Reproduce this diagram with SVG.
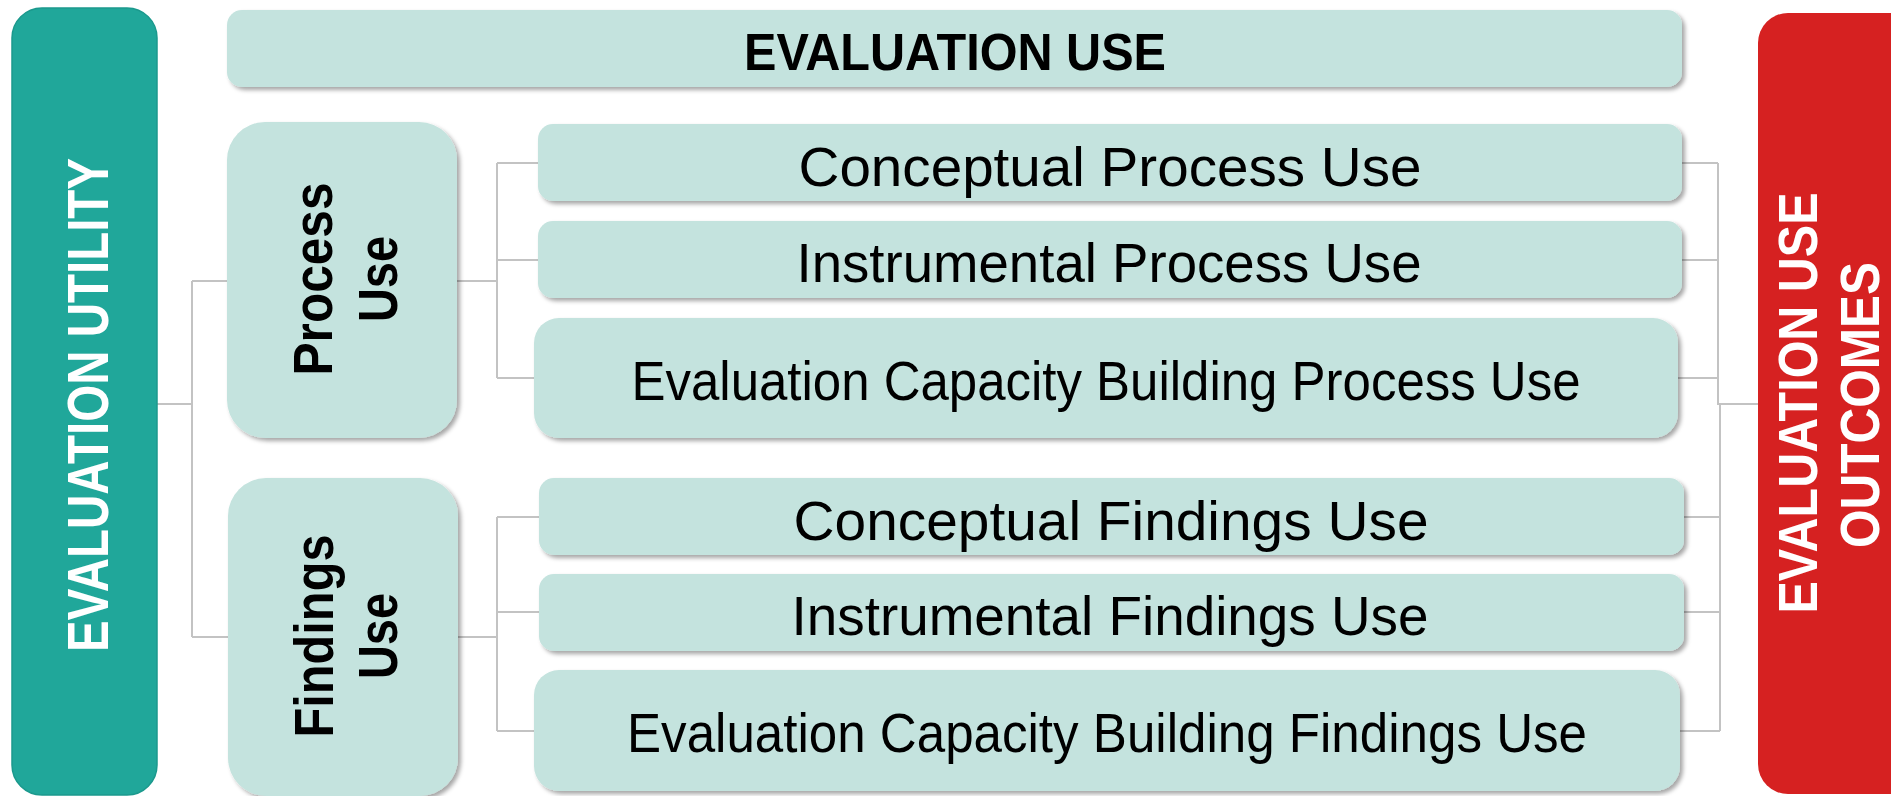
<svg xmlns="http://www.w3.org/2000/svg" width="1891" height="796" viewBox="0 0 1891 796">
<defs>
<filter id="sh" x="-5%" y="-10%" width="115%" height="130%">
<feDropShadow dx="3" dy="3" stdDeviation="2" flood-color="#000" flood-opacity="0.35"/>
</filter>
</defs>
<style>
.box{fill:#C4E3DE;filter:url(#sh)}
.lbl{font-family:"Liberation Sans",Arial,sans-serif;font-size:56px;fill:#000;text-anchor:middle}
.bold{font-family:"Liberation Sans",Arial,sans-serif;font-weight:bold;text-anchor:middle}
.con{fill:none;stroke:#C3C3C3;stroke-width:2}
</style>
<rect width="1891" height="796" fill="#fff"/>
<g id="connectors">
<path class="con" d="M157,404 H192 M192,281 V637 M192,281 H227 M192,637 H228"/>
<path class="con" d="M457,281 H497 M497,163 V378 M497,163 H538 M497,260 H538 M497,378 H534"/>
<path class="con" d="M458,637 H497 M497,517 V731 M497,517 H539 M497,612 H539 M497,731 H534"/>
<path class="con" d="M1682,163 H1718 M1682,260 H1718 M1678,378 H1718 M1718,163 V404 H1758"/>
<path class="con" d="M1684,517 H1720 M1684,612 H1720 M1680,731 H1720 M1720,404 V731"/>
</g>
<g id="evaluation-utility">
<rect x="12" y="8" width="145" height="787" rx="30" fill="#20A79A" stroke="#1B998D" stroke-width="1.5"/>
<text class="bold" transform="translate(108,405) rotate(-90)" font-size="57" fill="#fff" textLength="494" lengthAdjust="spacingAndGlyphs">EVALUATION UTILITY</text>
</g>
<g id="evaluation-use">
<rect class="box" x="227" y="10" width="1455" height="77" rx="15"/>
<text class="bold" x="955" y="70" font-size="52" fill="#000" textLength="422" lengthAdjust="spacingAndGlyphs">EVALUATION USE</text>
</g>
<g id="process-use">
<rect class="box" x="227" y="122" width="230" height="316" rx="38"/>
<text class="bold" transform="translate(332,279) rotate(-90)" font-size="55" fill="#000" textLength="193" lengthAdjust="spacingAndGlyphs">Process</text>
<text class="bold" transform="translate(397,279) rotate(-90)" font-size="55" fill="#000" textLength="86" lengthAdjust="spacingAndGlyphs">Use</text>
</g>
<g id="findings-use">
<rect class="box" x="228" y="478" width="230" height="318" rx="38"/>
<text class="bold" transform="translate(333,636) rotate(-90)" font-size="55" fill="#000" textLength="203" lengthAdjust="spacingAndGlyphs">Findings</text>
<text class="bold" transform="translate(397,636) rotate(-90)" font-size="55" fill="#000" textLength="86" lengthAdjust="spacingAndGlyphs">Use</text>
</g>
<g id="conceptual-process-use">
<rect class="box" x="538" y="124" width="1144" height="77" rx="15"/>
<text class="lbl" x="1110" y="186" textLength="623" lengthAdjust="spacingAndGlyphs">Conceptual Process Use</text>
</g>
<g id="instrumental-process-use">
<rect class="box" x="538" y="221" width="1144" height="77" rx="15"/>
<text class="lbl" x="1109" y="282" textLength="625" lengthAdjust="spacingAndGlyphs">Instrumental Process Use</text>
</g>
<g id="ecb-process-use">
<rect class="box" x="534" y="318" width="1144" height="120" rx="25"/>
<text class="lbl" x="1106" y="400" textLength="949" lengthAdjust="spacingAndGlyphs">Evaluation Capacity Building Process Use</text>
</g>
<g id="conceptual-findings-use">
<rect class="box" x="539" y="478" width="1145" height="77" rx="15"/>
<text class="lbl" x="1111" y="540" textLength="635" lengthAdjust="spacingAndGlyphs">Conceptual Findings Use</text>
</g>
<g id="instrumental-findings-use">
<rect class="box" x="539" y="574" width="1145" height="77" rx="15"/>
<text class="lbl" x="1110" y="635" textLength="637" lengthAdjust="spacingAndGlyphs">Instrumental Findings Use</text>
</g>
<g id="ecb-findings-use">
<rect class="box" x="534" y="670" width="1146" height="121" rx="25"/>
<text class="lbl" x="1107" y="752" textLength="960" lengthAdjust="spacingAndGlyphs">Evaluation Capacity Building Findings Use</text>
</g>
<g id="evaluation-use-outcomes">
<rect x="1758" y="13" width="170" height="781" rx="30" fill="#D62121"/>
<text class="bold" transform="translate(1817,403) rotate(-90)" font-size="55" fill="#fff" textLength="421" lengthAdjust="spacingAndGlyphs">EVALUATION USE</text>
<text class="bold" transform="translate(1879,405) rotate(-90)" font-size="55" fill="#fff" textLength="286" lengthAdjust="spacingAndGlyphs">OUTCOMES</text>
</g>
</svg>
